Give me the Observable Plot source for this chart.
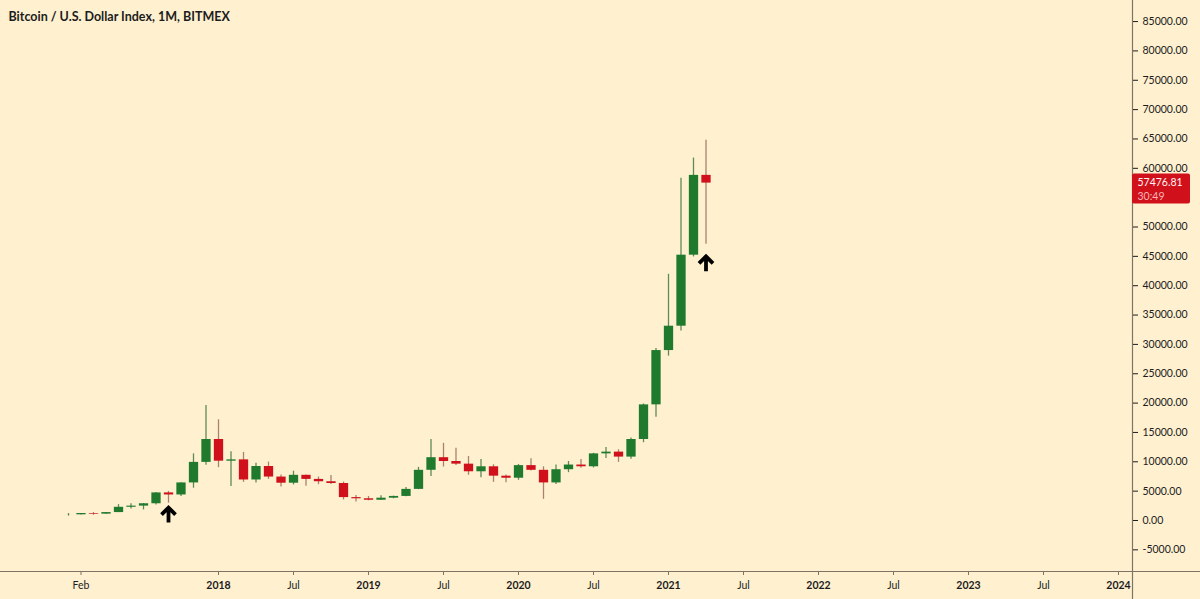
<!DOCTYPE html>
<html>
<head>
<meta charset="utf-8">
<script src="https://cdn.jsdelivr.net/npm/d3@7"></script>
<script src="https://cdn.jsdelivr.net/npm/@observablehq/plot@0.6"></script>
<style>
  html, body { margin: 0; padding: 0; background: #fff1d0; }
  #chart { width: 1200px; height: 599px; }
</style>
</head>
<body>
<div id="chart"></div>
<script>
// Monthly BTC/USD candles (BitMEX), Jan 2017 – Apr 2021
const months = [
  "2017-01","2017-02","2017-03","2017-04","2017-05","2017-06","2017-07","2017-08","2017-09","2017-10","2017-11","2017-12",
  "2018-01","2018-02","2018-03","2018-04","2018-05","2018-06","2018-07","2018-08","2018-09","2018-10","2018-11","2018-12",
  "2019-01","2019-02","2019-03","2019-04","2019-05","2019-06","2019-07","2019-08","2019-09","2019-10","2019-11","2019-12",
  "2020-01","2020-02","2020-03","2020-04","2020-05","2020-06","2020-07","2020-08","2020-09","2020-10","2020-11","2020-12",
  "2021-01","2021-02","2021-03","2021-04"
];
const open = [
  964, 970, 1190, 1080, 1350, 2250, 2450, 2850, 4700, 4350, 6400, 9900,
  13800, 10100, 10330, 6900, 9200, 7400, 6350, 7700, 7000, 6600, 6300, 3900,
  3700, 3450, 3800, 4100, 5300, 8550, 10700, 10050, 9600, 8300, 9150, 7550,
  7200, 9350, 8550, 6400, 8650, 9450, 9150, 11350, 11650, 10800, 13800, 19700,
  28950, 33100, 45200, 58800
];
const high = [
  1190, 1200, 1350, 1350, 2700, 2850, 2900, 4750, 4950, 6450, 11350, 19600,
  17150, 11700, 11600, 9750, 9950, 7750, 8400, 7750, 7400, 7650, 6550, 4250,
  4100, 4200, 4150, 5600, 9050, 13800, 13150, 12300, 10900, 10400, 9500, 7750,
  9550, 10500, 9150, 9450, 10050, 10400, 11450, 12450, 12050, 14050, 19850, 29300,
  41950, 58300, 61750, 64800
];
const low = [
  751, 920, 890, 1060, 1340, 1950, 1800, 2650, 2950, 4100, 5500, 9400,
  9000, 5800, 6500, 6400, 7000, 5700, 6050, 5850, 6100, 6150, 3500, 3150,
  3350, 3400, 3700, 4050, 5250, 7500, 9100, 9350, 7700, 7300, 6500, 6450,
  6850, 8450, 3600, 6150, 8150, 8900, 8950, 10550, 9900, 10450, 13250, 17600,
  28000, 32300, 44900, 47050
];
const close = [
  970, 1190, 1080, 1350, 2250, 2450, 2850, 4700, 4350, 6400, 9900, 13800,
  10100, 10330, 6900, 9200, 7400, 6350, 7700, 7000, 6600, 6300, 3900, 3700,
  3450, 3800, 4100, 5300, 8550, 10700, 10050, 9600, 8300, 9150, 7550, 7200,
  9350, 8550, 6400, 8650, 9450, 9150, 11350, 11650, 10800, 13800, 19700, 28950,
  33100, 45200, 58800, 57476.81
];

// Time axis ticks and their labels
const tickMonths = ["2017-02","2018-01","2018-07","2019-01","2019-07","2020-01","2020-07",
                    "2021-01","2021-07","2022-01","2022-07","2023-01","2023-07","2024-01"];
const tickLabels = ["Feb","2018","Jul","2019","Jul","2020","Jul",
                    "2021","Jul","2022","Jul","2023","Jul","2024"];

// Price axis ticks (55000 sits under the last-price tag, so it is not labelled)
const priceTicks = [-5000, 0, 5000, 10000, 15000, 20000, 25000, 30000, 35000, 40000,
                    45000, 50000, 60000, 65000, 70000, 75000, 80000, 85000];

// Up arrows drawn under two candles (tip price)
const arrowMonths = ["2017-09", "2021-04"];
const arrowTips = [2200, 45000];

// Countdown shown under the last price
const countdown = "30:49";
const title = "Bitcoin / U.S. Dollar Index, 1M, BITMEX";

// Months since Jan 2017: candles are equally spaced like a trading chart
const monthIndex = s => { const [y, m] = s.split("-").map(Number); return (y - 2017) * 12 + (m - 1); };

const candles = months.map((m, i) => ({
  t: monthIndex(m), open: open[i], high: high[i], low: low[i], close: close[i], up: close[i] >= open[i]
}));
const ups = candles.filter(d => d.up);
const downs = candles.filter(d => !d.up);
const last = candles[candles.length - 1];

const ticks = tickMonths.map((m, i) => ({t: monthIndex(m), label: tickLabels[i]}));
const yearTicks = ticks.filter(d => d.t % 12 === 0);
const monthTicks = ticks.filter(d => d.t % 12 !== 0);
const labelOf = new Map(ticks.map(d => [d.t, d.label]));

const arrows = arrowMonths.map((m, i) => ({t: monthIndex(m), y: arrowTips[i]}));

const xDomain = [-5.44, 85.12];
const yDomain = [-8690, 88590];

const GREEN = "#1f7a2e", RED = "#d0101b";
const WICK_GREEN = "#5e8a55", WICK_RED = "#a8826f";
const AXIS = "#7d7464", INK = "#1c1c1c";

// Chevron-headed arrow with a shaft
const upArrow = {
  draw(context, l) {
    const w = 7;
    context.moveTo(0, 0);
    context.lineTo(0, -l);
    context.moveTo(-w, -l + w);
    context.lineTo(0, -l);
    context.lineTo(w, -l + w);
  }
};

const chart = Plot.plot({
  width: 1200,
  height: 599,
  marginLeft: 0,
  marginRight: 68,
  marginTop: 0,
  marginBottom: 28,
  style: {background: "#fff1d0", fontFamily: "Lato, 'Open Sans', sans-serif", fontSize: "10px", color: INK},
  x: {type: "linear", domain: xDomain},
  y: {type: "linear", domain: yDomain},
  marks: [
    // axis lines
    Plot.ruleX([xDomain[1]], {stroke: AXIS, strokeWidth: 1.2, insetBottom: -28}),
    Plot.ruleY([yDomain[0]], {stroke: AXIS, strokeWidth: 1.2, insetRight: -68}),

    // price axis
    Plot.axisY({
      anchor: "right", ticks: priceTicks, tickFormat: d => d.toFixed(2),
      tickSize: 5, tickPadding: 5, fontSize: 10.5, label: null
    }),

    // time axis: months in regular weight, years in bold
    Plot.axisX({
      anchor: "bottom", ticks: monthTicks.map(d => d.t), tickFormat: t => labelOf.get(t),
      tickSize: 4, tickPadding: 6, fontSize: 10.5, label: null, stroke: AXIS
    }),
    Plot.axisX({
      anchor: "bottom", ticks: yearTicks.map(d => d.t), tickFormat: t => labelOf.get(t),
      tickSize: 4, tickPadding: 6, fontSize: 10.5, fontWeight: "bold", label: null, stroke: AXIS
    }),

    // wicks
    Plot.ruleX(ups, {x: "t", y1: "low", y2: "high", stroke: WICK_GREEN, strokeWidth: 1.3}),
    Plot.ruleX(downs, {x: "t", y1: "low", y2: "high", stroke: WICK_RED, strokeWidth: 1.3}),
    // bodies
    Plot.ruleX(ups, {x: "t", y1: "open", y2: "close", stroke: GREEN, strokeWidth: 9.3}),
    Plot.ruleX(downs, {x: "t", y1: "open", y2: "close", stroke: RED, strokeWidth: 9.3}),

    // arrows
    Plot.vector(arrows, {
      x: "t", y: "y", length: 15, rotate: 0, anchor: "end", shape: upArrow,
      stroke: "#000", strokeWidth: 3.8, strokeLinejoin: "miter", strokeLinecap: "butt"
    }),

    // last price tag
    Plot.rect([last], {
      x1: () => xDomain[1], x2: () => xDomain[1], y1: "close", y2: "close",
      insetTop: -9, insetBottom: -21, insetRight: -58, fill: RED, rx: 2
    }),
    Plot.text([last], {
      y: "close", frameAnchor: "right", text: d => d.close.toFixed(2),
      textAnchor: "start", dx: 5, fill: "#fff4f4", fontSize: 10.5
    }),
    Plot.text([last], {
      y: "close", frameAnchor: "right", text: () => countdown,
      textAnchor: "start", dx: 5, dy: 13.5, fill: "#f6b4b4", fontSize: 10.5
    }),

    // title
    Plot.text([title], {
      frameAnchor: "top-left", text: d => d, textAnchor: "start", lineAnchor: "middle",
      dx: 8, dy: 16, fontWeight: "bold", fontSize: 12.5, fill: INK
    })
  ]
});

document.getElementById("chart").append(chart);
</script>
</body>
</html>
